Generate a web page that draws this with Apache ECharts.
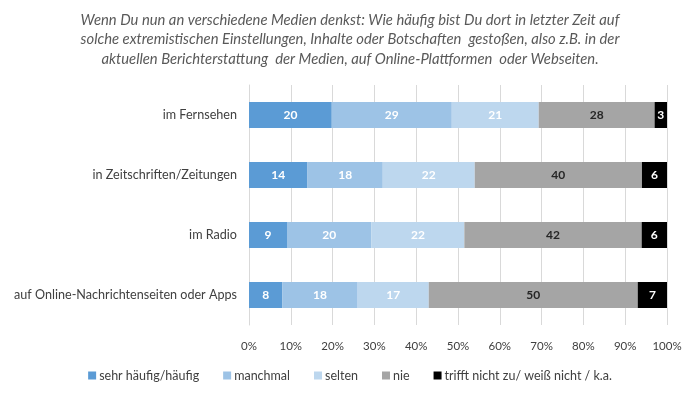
<!DOCTYPE html>
<html>
<head>
<meta charset="utf-8">
<script src="https://cdn.jsdelivr.net/npm/echarts@6/dist/echarts.min.js"></script>
<style>html,body{margin:0;padding:0;background:#fff}#c{width:700px;height:396px}</style>
</head>
<body>
<div id="c"></div>
<script>
const titleLines = [
  'Wenn Du nun an verschiedene Medien denkst: Wie häufig bist Du dort in letzter Zeit auf',
  'solche extremistischen Einstellungen, Inhalte oder Botschaften  gestoßen, also z.B. in der',
  'aktuellen Berichterstattung  der Medien, auf Online-Plattformen  oder Webseiten.'
];
const categories = ['im Fernsehen', 'in Zeitschriften/Zeitungen', 'im Radio', 'auf Online-Nachrichtenseiten oder Apps'];
const seriesNames = ['sehr häufig/häufig', 'manchmal', 'selten', 'nie', 'trifft nicht zu/ weiß nicht / k.a.'];
const sehrHaeufig = [20, 14, 9, 8];
const manchmal = [29, 18, 20, 18];
const selten = [21, 22, 22, 17];
const nie = [28, 40, 42, 50];
const trifftNicht = [3, 6, 6, 7];
const xTicks = [0, 10, 20, 30, 40, 50, 60, 70, 80, 90, 100];

const colors = ['#5B9BD5', '#9DC3E6', '#BDD7EE', '#A5A5A5', '#000000'];
const labelColors = ['#ffffff', '#ffffff', '#ffffff', '#262626', '#ffffff'];
const allData = [sehrHaeufig, manchmal, selten, nie, trifftNicht];
// 100% stacked: each row is scaled to its own total
const rowTotals = categories.map((_, r) => allData.reduce((s, arr) => s + arr[r], 0));
const FONT = 'Lato, "Open Sans", sans-serif';

const chart = echarts.init(document.getElementById('c'), null, {renderer: 'canvas'});
chart.setOption({
  animation: false,
  title: {
    text: titleLines.join('\n'),
    left: 'center',
    top: 5,
    textStyle: {fontFamily: FONT, fontStyle: 'italic', fontWeight: 'normal', fontSize: 14.8, color: '#595959', lineHeight: 19.5}
  },
  legend: {
    data: seriesNames,
    bottom: 9,
    left: 'center',
    itemWidth: 8,
    itemHeight: 8,
    itemGap: 24,
    icon: 'rect',
    textStyle: {fontFamily: FONT, fontSize: 12.5, color: '#404040', padding: [0, 0, 0, -2]}
  },
  grid: {left: 249, right: 33, top: 85, bottom: 71, containLabel: false},
  xAxis: {
    type: 'value',
    min: 0, max: 100, interval: 10,
    axisLine: {show: false},
    axisTick: {show: false},
    splitLine: {show: true, lineStyle: {color: '#D9D9D9', width: 1}},
    axisLabel: {fontFamily: FONT, fontSize: 11.5, color: '#404040', margin: 15, formatter: v => xTicks.includes(v) ? v + '%' : ''}
  },
  yAxis: {
    type: 'category',
    data: categories,
    inverse: true,
    axisLine: {show: true, lineStyle: {color: '#D9D9D9'}},
    axisTick: {show: false},
    axisLabel: {fontFamily: FONT, fontSize: 12.6, color: '#404040', margin: 12}
  },
  series: seriesNames.map((name, i) => ({
    name: name,
    type: 'bar',
    stack: 'total',
    barWidth: 26,
    data: allData[i].map((v, r) => ({value: v / rowTotals[r] * 100, raw: v})),
    itemStyle: {color: colors[i]},
    label: {
      show: true,
      position: 'inside',
      color: labelColors[i],
      fontFamily: FONT,
      fontWeight: 'bold',
      fontSize: 12,
      formatter: p => String(allData[i][p.dataIndex])
    }
  }))
});
</script>
</body>
</html>
